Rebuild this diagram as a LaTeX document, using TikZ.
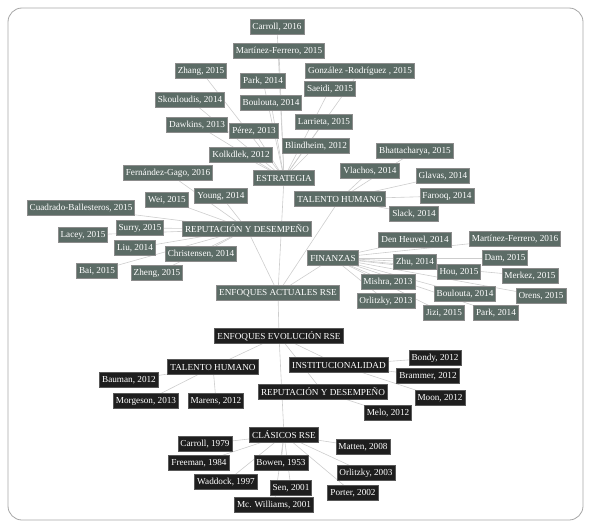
\documentclass[tikz,border=0pt]{standalone}
\usepackage{fontspec}
\setmainfont{Liberation Serif}
\usetikzlibrary{backgrounds}
\definecolor{boxgreen}{RGB}{92,108,102}
\definecolor{boxdark}{RGB}{30,30,30}
\definecolor{edgec}{RGB}{205,205,205}
\begin{document}
\begin{tikzpicture}[x=1pt,y=-1pt,
 lf/.style={fill=boxgreen,draw=black!45,line width=0.9pt,text=white,
   font=\fontsize{9.2}{10}\selectfont,inner xsep=2.5pt,inner ysep=1.5pt,minimum height=14.5pt},
 dk/.style={lf,fill=boxdark,draw=black!65},
 ed/.style={draw=edgec,line width=0.6pt}]
\useasboundingbox (0,0) rectangle (589,527);
% ---- current approaches (green)
\node[lf] (est) at (284,178) {ESTRATEGIA};
\node[lf] (s1) at (277,27) {Carroll, 2016};
\node[lf] (s2) at (279,51) {Martínez-Ferrero, 2015};
\node[lf] (s3) at (201,71) {Zhang, 2015};
\node[lf] (s4) at (263,81) {Park, 2014};
\node[lf] (s5) at (360,71) {González -Rodríguez , 2015};
\node[lf] (s6) at (190,100) {Skouloudis, 2014};
\node[lf] (s7) at (271,103) {Boulouta, 2014};
\node[lf] (s8) at (330,89) {Saeidi, 2015};
\node[lf] (s9) at (197,125) {Dawkins, 2013};
\node[lf] (s10) at (254,131) {Pérez, 2013};
\node[lf] (s11) at (324,122) {Larrieta, 2015};
\node[lf] (s12) at (241,155) {Kolkdlek, 2012};
\node[lf] (s13) at (316,146) {Blindheim, 2012};

\node[lf] (rep) at (247,229) {REPUTACIÓN Y DESEMPEÑO};
\node[lf] (r1) at (168,173) {Fernández-Gago, 2016};
\node[lf] (r2) at (221,196) {Young, 2014};
\node[lf] (r3) at (167,200) {Wei, 2015};
\node[lf] (r4) at (81,208) {Cuadrado-Ballesteros, 2015};
\node[lf] (r5) at (140,228) {Surry, 2015};
\node[lf] (r6) at (83,235) {Lacey, 2015};
\node[lf] (r7) at (135,248) {Liu, 2014};
\node[lf] (r8) at (201,254) {Christensen, 2014};
\node[lf] (r9) at (97,271) {Bai, 2015};
\node[lf] (r10) at (157,273) {Zheng, 2015};

\node[lf] (tal) at (340,199) {TALENTO HUMANO};
\node[lf] (t1) at (415,151) {Bhattacharya, 2015};
\node[lf] (t2) at (370,171) {Vlachos, 2014};
\node[lf] (t3) at (443,176) {Glavas, 2014};
\node[lf] (t4) at (447,196) {Farooq, 2014};
\node[lf] (t5) at (414,214) {Slack, 2014};

\node[lf] (fin) at (333,258) {FINANZAS};
\node[lf] (f1) at (415,240) {Den Heuvel, 2014};
\node[lf] (f2) at (515,239) {Martínez-Ferrero, 2016};
\node[lf] (f3) at (415,262) {Zhu, 2014};
\node[lf] (f4) at (505,258) {Dam, 2015};
\node[lf] (f5) at (459,272) {Hou, 2015};
\node[lf] (f6) at (530,276) {Merkez, 2015};
\node[lf] (f7) at (388,282) {Mishra, 2013};
\node[lf] (f8) at (465,294) {Boulouta, 2014};
\node[lf] (f9) at (541,296) {Orens, 2015};
\node[lf] (f10) at (386,301) {Orlitzky, 2013};
\node[lf] (f11) at (444,313) {Jizi, 2015};
\node[lf] (f12) at (496,313) {Park, 2014};

\node[lf] (act) at (278,293) {ENFOQUES ACTUALES RSE};
% ---- evolution (dark)
\node[dk] (evo) at (279,336) {ENFOQUES EVOLUCIÓN RSE};
\node[dk] (th) at (213,367) {TALENTO HUMANO};
\node[dk] (th1) at (129,380) {Bauman, 2012};
\node[dk] (th2) at (146,401) {Morgeson, 2013};
\node[dk] (th3) at (216,401) {Marens, 2012};
\node[dk] (ins) at (339,365) {INSTITUCIONALIDAD};
\node[dk] (in1) at (435,358) {Bondy, 2012};
\node[dk] (in2) at (428,376) {Brammer, 2012};
\node[dk] (in3) at (440,398) {Moon, 2012};
\node[dk] (rd) at (323,392) {REPUTACIÓN Y DESEMPEÑO};
\node[dk] (rd1) at (388,413) {Melo, 2012};
\node[dk] (cla) at (284,435) {CLÁSICOS RSE};
\node[dk] (c1) at (205,444) {Carroll, 1979};
\node[dk] (c2) at (363,447) {Matten, 2008};
\node[dk] (c3) at (199,463) {Freeman, 1984};
\node[dk] (c4) at (281,463) {Bowen, 1953};
\node[dk] (c5) at (366,473) {Orlitzky, 2003};
\node[dk] (c6) at (226,482) {Waddock, 1997};
\node[dk] (c7) at (291,488) {Sen, 2001};
\node[dk] (c8) at (353,493) {Porter, 2002};
\node[dk] (c9) at (274,505) {Mc. Williams, 2001};

\begin{pgfonlayer}{background}
\draw[gray!70,line width=0.8pt,rounded corners=14pt] (8,8) rectangle (583,520);
\foreach \n in {s1,s2,s3,s4,s5,s6,s7,s8,s9,s10,s11,s12,s13} \draw[ed] (est.center) -- (\n.center);
\foreach \n in {r1,r2,r3,r4,r5,r6,r7,r8,r9,r10} \draw[ed] (rep.center) -- (\n.center);
\foreach \n in {t1,t2,t3,t4,t5} \draw[ed] (tal.center) -- (\n.center);
\foreach \n in {f1,f2,f3,f4,f5,f6,f7,f8,f9,f10,f11,f12} \draw[ed] (fin.center) -- (\n.center);
\foreach \n in {est,rep,tal,fin} \draw[ed] (act.center) -- (\n.center);
\draw[ed] (act.center) -- (evo.center);
\foreach \n in {th,ins,rd,cla} \draw[ed] (evo.center) -- (\n.center);
\foreach \n in {th1,th2,th3} \draw[ed] (th.center) -- (\n.center);
\foreach \n in {in1,in2,in3} \draw[ed] (ins.center) -- (\n.center);
\draw[ed] (rd.center) -- (rd1.center);
\foreach \n in {c1,c2,c3,c4,c5,c6,c7,c8,c9} \draw[ed] (cla.center) -- (\n.center);
\end{pgfonlayer}
\end{tikzpicture}
\end{document}
